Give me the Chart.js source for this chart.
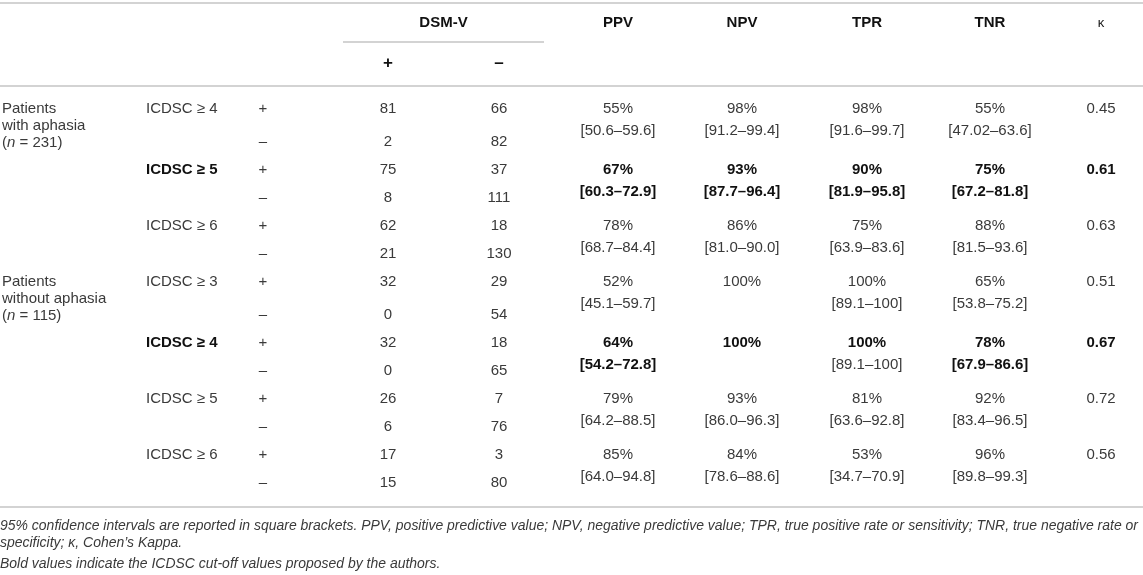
<!DOCTYPE html>
<html>
<head>
<meta charset="utf-8">
<script src="https://cdn.jsdelivr.net/npm/chart.js@4.4.0/dist/chart.umd.min.js"></script>
<style>
  html, body { margin: 0; padding: 0; background: #fff; }
  #wrap { width: 1143px; height: 575px; }
</style>
</head>
<body>
<div id="wrap"><canvas id="tbl"></canvas></div>
<script>
// table content
const groups = [["Patients", "with aphasia", "(n = 231)"], ["Patients", "without aphasia", "(n = 115)"]];
const groupStart = [0, 3]; // first cut-off row of each group
const cutoffs = ["ICDSC ≥ 4", "ICDSC ≥ 5", "ICDSC ≥ 6", "ICDSC ≥ 3", "ICDSC ≥ 4", "ICDSC ≥ 5", "ICDSC ≥ 6"];
const proposed = [false, true, false, false, true, false, false];

const testPosDsmPos = [81, 75, 62, 32, 32, 26, 17];
const testPosDsmNeg = [66, 37, 18, 29, 18, 7, 3];
const testNegDsmPos = [2, 8, 21, 0, 0, 6, 15];
const testNegDsmNeg = [82, 111, 130, 54, 65, 76, 80];

const ppv = [55, 67, 78, 52, 64, 79, 85];
const ppvCI = ["50.6–59.6", "60.3–72.9", "68.7–84.4", "45.1–59.7", "54.2–72.8", "64.2–88.5", "64.0–94.8"];
const npv = [98, 93, 86, 100, 100, 93, 84];
const npvCI = ["91.2–99.4", "87.7–96.4", "81.0–90.0", null, null, "86.0–96.3", "78.6–88.6"];
const tpr = [98, 90, 75, 100, 100, 81, 53];
const tprCI = ["91.6–99.7", "81.9–95.8", "63.9–83.6", "89.1–100", "89.1–100", "63.6–92.8", "34.7–70.9"];
const tprCIBold = [false, true, false, false, false, false, false];
const tnr = [55, 75, 88, 65, 78, 92, 96];
const tnrCI = ["47.02–63.6", "67.2–81.8", "81.5–93.6", "53.8–75.2", "67.9–86.6", "83.4–96.5", "89.8–99.3"];
const kappa = [0.45, 0.61, 0.63, 0.51, 0.67, 0.72, 0.56];

const headers = ["PPV", "NPV", "TPR", "TNR"];
const footnotes = [
  "95% confidence intervals are reported in square brackets. PPV, positive predictive value; NPV, negative predictive value; TPR, true positive rate or sensitivity; TNR, true negative rate or",
  "specificity; κ, Cohen’s Kappa.",
  "Bold values indicate the ICDSC cut-off values proposed by the authors."
];

// layout
const FONT = '"Liberation Sans", Arial, Helvetica, sans-serif';
const SIZE = 15;
const col = { group: 2, cut: 146, sign: 263, dsmPos: 388, dsmNeg: 499, ppv: 618, npv: 742, tpr: 867, tnr: 990, kappa: 1101 };
const CI_OFF = 0.77;     // second line of a metric cell, in rows
const LABEL_LINE = 0.6;  // line step of group labels, in rows

// row i -> y value; the first block of each group is a bit taller
function rowValue(i) {
  return i + (i >= 1 ? 0.18 : 0) + (i >= 7 ? 0.18 : 0);
}
const plusRows = cutoffs.map((c, k) => rowValue(2 * k));
const minusRows = cutoffs.map((c, k) => rowValue(2 * k + 1));

const datasets = [];
function addColumn(label, x, rows, texts, bolds, align) {
  datasets.push({
    label,
    data: rows.map(r => ({ x, y: r })),
    texts,
    bolds: bolds || texts.map(() => false),
    align: align || "center",
    pointRadius: 0,
    showLine: false
  });
}

addColumn("cut-off", col.cut, plusRows, cutoffs, proposed, "left");
addColumn("sign +", col.sign, plusRows, cutoffs.map(() => "+"));
addColumn("sign -", col.sign, minusRows, cutoffs.map(() => "–"));
addColumn("DSM+ test+", col.dsmPos, plusRows, testPosDsmPos.map(String));
addColumn("DSM+ test-", col.dsmPos, minusRows, testNegDsmPos.map(String));
addColumn("DSM- test+", col.dsmNeg, plusRows, testPosDsmNeg.map(String));
addColumn("DSM- test-", col.dsmNeg, minusRows, testNegDsmNeg.map(String));

function addMetric(name, x, vals, ci, ciBold) {
  addColumn(name, x, plusRows, vals.map(v => v + "%"), proposed);
  addColumn(name + " CI", x, plusRows.map(r => r + CI_OFF), ci.map(c => (c ? "[" + c + "]" : "")), ciBold || proposed);
}
addMetric("PPV", col.ppv, ppv, ppvCI);
addMetric("NPV", col.npv, npv, npvCI);
addMetric("TPR", col.tpr, tpr, tprCI, tprCIBold);
addMetric("TNR", col.tnr, tnr, tnrCI);
addColumn("kappa", col.kappa, plusRows, kappa.map(v => v.toFixed(2)), proposed);

groups.forEach((lines, g) => {
  const r0 = rowValue(2 * groupStart[g]);
  addColumn("group " + g, col.group, lines.map((l, j) => r0 + j * LABEL_LINE), lines, null, "left");
});

function setFont(ctx, bold, italic, size) {
  ctx.font = (italic ? "italic " : "") + (bold ? "bold " : "") + (size || SIZE) + "px " + FONT;
}

const tablePlugin = {
  id: "tablePlugin",
  afterDatasetsDraw(chart) {
    const ctx = chart.ctx;
    const xs = chart.scales.x, ys = chart.scales.y;
    const X = v => xs.getPixelForValue(v);
    const Y = v => ys.getPixelForValue(v);
    ctx.save();

    // rules
    ctx.strokeStyle = "#c4c4c4";
    ctx.lineWidth = 1.5;
    const hline = (y, x0, x1) => {
      ctx.beginPath();
      ctx.moveTo(X(x0), Y(y));
      ctx.lineTo(X(x1), Y(y));
      ctx.stroke();
    };
    hline(-3.786, 0, 1143);
    hline(-2.393, 343, 544);
    hline(-0.821, 0, 1143);
    hline(14.214, 0, 1143);

    // header
    ctx.textBaseline = "middle";
    ctx.textAlign = "center";
    ctx.fillStyle = "#111";
    setFont(ctx, true);
    ctx.fillText("DSM-V", X((col.dsmPos + col.dsmNeg) / 2), Y(-3.07));
    setFont(ctx, true, false, 17);
    ctx.fillText("+", X(col.dsmPos), Y(-1.64));
    ctx.fillText("–", X(col.dsmNeg), Y(-1.64));
    setFont(ctx, true);
    [col.ppv, col.npv, col.tpr, col.tnr].forEach((x, i) => ctx.fillText(headers[i], X(x), Y(-3.07)));
    setFont(ctx, false, false, 13);
    ctx.fillText("κ", X(col.kappa), Y(-3.07));

    // cells
    chart.data.datasets.forEach((ds, di) => {
      const meta = chart.getDatasetMeta(di);
      meta.data.forEach((pt, i) => {
        const t = ds.texts[i];
        if (!t) return;
        const bold = ds.bolds[i];
        ctx.textAlign = ds.align;
        ctx.fillStyle = bold ? "#111" : "#3a3a3a";
        setFont(ctx, bold);
        if (t.startsWith("(n = ")) {
          // italic n
          ctx.textAlign = "left";
          let x = pt.x;
          ctx.fillText("(", x, pt.y); x += ctx.measureText("(").width;
          setFont(ctx, false, true);
          ctx.fillText("n", x, pt.y); x += ctx.measureText("n").width;
          setFont(ctx, false);
          ctx.fillText(t.slice(2), x, pt.y);
        } else {
          ctx.fillText(t, pt.x, pt.y);
        }
      });
    });

    // footnotes, condensed italic
    ctx.textAlign = "left";
    ctx.fillStyle = "#3a3a3a";
    setFont(ctx, false, true, 14);
    const sx = 1138 / ctx.measureText(footnotes[0]).width;
    [14.89, 15.52, 16.27].forEach((yv, i) => {
      ctx.save();
      ctx.translate(X(0), Y(yv));
      ctx.scale(sx, 1);
      ctx.fillText(footnotes[i], 0, 0);
      ctx.restore();
    });
    ctx.restore();
  }
};

new Chart(document.getElementById("tbl"), {
  type: "scatter",
  data: { datasets },
  options: {
    responsive: true,
    maintainAspectRatio: false,
    animation: false,
    events: [],
    layout: { padding: 0 },
    plugins: { legend: { display: false }, tooltip: { enabled: false } },
    scales: {
      x: { type: "linear", min: 0, max: 1143, display: false },
      y: { type: "linear", min: -109 / 28, max: (575 - 109) / 28, reverse: true, display: false }
    }
  },
  plugins: [tablePlugin]
});
</script>
</body>
</html>
